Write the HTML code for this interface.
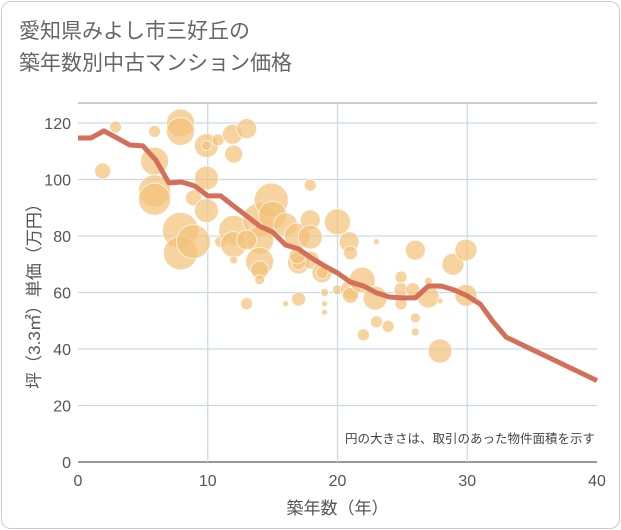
<!DOCTYPE html>
<html><head><meta charset="utf-8"><style>
body{margin:0;background:#fff;font-family:"Liberation Sans","Noto Sans CJK JP",sans-serif;}
#card{position:absolute;left:1px;top:1px;width:617px;height:526px;border:1px solid #ccc;border-radius:10px;background:#fff;overflow:hidden}
#title{position:absolute;left:17px;top:14px;font-size:21px;line-height:32px;color:#666;}
</style></head><body>
<div id="card">
<div id="title">愛知県みよし市三好丘の<br>築年数別中古マンション価格</div>
</div>
<svg id="chart" width="621" height="530" style="position:absolute;left:0;top:0"></svg>
<script>
const xTicks=[0,10,20,30,40];
const yTicks=[0,20,40,60,80,100,120];
const bubbleYears=[1.9,2.9,5.9,7.9,7.9,9.9,9.9,10.8,11.9,12,13,5.9,5.9,5.9,9.9,8.9,9.9,7.9,7.9,8.9,11,12,12,12,14,14,14,13,14,14,13,16,17,19,19,19,17.9,14.9,15,16,16.9,17,17.9,17.9,20,17.9,18.8,20.9,21,23,20,21,21,21.9,22.9,23,23.9,22,24.9,24.9,24.9,26,25.8,27,26,26,27.9,28.9,29.9,29.9,27.9,27.9,27,18.8,17,16.9];
const bubblePrices=[103,118.6,117,120,117,112,112,114,116,109,118,106.5,96,93,100.5,93.5,89,82,74,78,78,82,77,71.5,85.7,78.6,71,78.6,68,64.5,56,56,57.7,60,56,53,98,92.7,87.4,84,80,70.5,85.7,79.6,85,71.5,67,78,74,78,61,61,59,64.4,58,49.6,48,45,56,65.5,61,75,61,58.4,51,46,39.3,70,75,59,57,62,64,67,70.5,73];
const bubbleSizes=[8,6,6,14,14,12,5,6,10,9,10,14,16,16,12,8,12,18,17,17,6,15,13,4,17,14,14,10,9,5,6,3,7,4,3,3,6,17,14,12,13,11,10,12,13,9,10,10,7,3,5,10,8,13,12,6,6,6,6,6,7,10,7,11,5,4,12,11,11,11,3,3,4,6,7,8];
const lineYears=[0,1,2,3,4,5,6,7,8,9,10,11,12,13,14,15,16,17,18,19,20,21,22,23,24,25,26,27,28,29,30,31,32,33,34,35,36,37,38,39,40];
const linePrices=[114.7,114.7,117.2,114.7,112.2,111.9,106.9,98.8,99.1,97.7,94.2,94.2,90.6,87.1,83.5,81.4,76.8,75.4,72.2,69.4,66.9,63.7,62.3,59.9,58.4,58.1,58.1,62.3,62.3,60.9,58.8,55.9,49.6,44.2,42,39.8,37.6,35.4,33.2,31,28.8];
const L=78,R=597,T=103,B=462;
const xs=v=>L+(v-0)/40*(R-L);
const ys=v=>B-v/120*(B-123);
const svg=document.getElementById('chart');const NS='http://www.w3.org/2000/svg';
function mk(tag,attrs,parent){const e=document.createElementNS(NS,tag);for(const k in attrs)e.setAttribute(k,attrs[k]);(parent||svg).appendChild(e);return e;}
const grid=mk('g',{});


mk('line',{x1:L,x2:R,y1:T,y2:T,stroke:'#999','stroke-width':1},grid);
yTicks.forEach(t=>{
 const ln=mk('line',{x1:L,x2:R,y1:ys(t),y2:ys(t),stroke:t===0?'#777':'#c9d9e6','stroke-width':t===0?1.5:1.2},grid);
 
 
 const tx=mk('text',{x:L-7,y:ys(t)+6,'text-anchor':'end','font-size':16,fill:'#555'});
 tx.textContent=t;
 
 
});
xTicks.forEach(t=>{
 if(t>0&&t<40){const ln=mk('line',{x1:xs(t),x2:xs(t),y1:T,y2:B,stroke:'#c9d9e6','stroke-width':1.2},grid);
 
 }
 const tx=mk('text',{x:xs(t),y:B+24,'text-anchor':'middle','font-size':16,fill:'#555'});
 tx.textContent=t;
 
 
});
const bg=mk('g',{});


bubbleYears.forEach((x,i)=>{
 const c=mk('circle',{cx:xs(x),cy:ys(bubblePrices[i]),r:bubbleSizes[i],fill:'#f2c27a','fill-opacity':0.72,stroke:'#fff','stroke-opacity':0.7,'stroke-width':1},bg);
 
 
});
const p=mk('polyline',{points:lineYears.map((x,i)=>xs(x)+','+ys(linePrices[i])).join(' '),fill:'none',stroke:'#d4705a','stroke-width':5,'stroke-linejoin':'round'});


const note=mk('text',{x:595,y:443,'text-anchor':'end','font-size':12.5,fill:'#444'});
note.textContent='円の大きさは、取引のあった物件面積を示す';


const xt=mk('text',{x:xs(20),y:514,'text-anchor':'middle','font-size':17,fill:'#555'});
xt.textContent='築年数（年）';


const yt=mk('text',{x:0,y:0,'text-anchor':'middle','font-size':17,fill:'#555',transform:'translate(40,292) rotate(-90)'});
yt.textContent='坪（3.3㎡）単価（万円）';


</script>
</body></html>
